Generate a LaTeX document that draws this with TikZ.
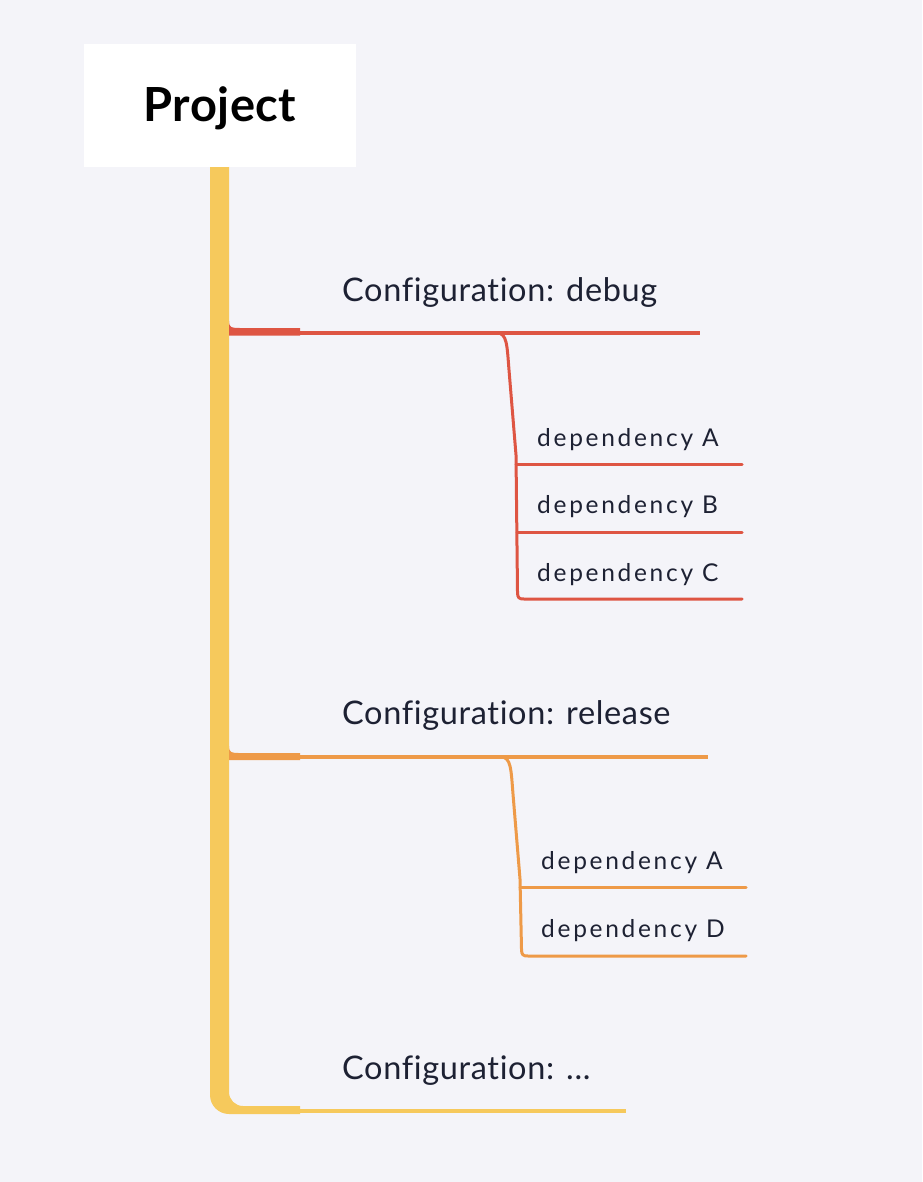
\documentclass[tikz,border=0pt]{standalone}
\usepackage{fontspec}
\setmainfont{Lato}[Ligatures=NoCommon]
\usetikzlibrary{calc}
\definecolor{bg}{HTML}{F4F4F9}
\definecolor{txt}{HTML}{1D2133}
\definecolor{cyel}{HTML}{F6C95C}
\definecolor{cred}{HTML}{DE5543}
\definecolor{cora}{HTML}{EE9A48}
\tikzset{
  conf/.style={anchor=base west, inner sep=0pt, text=txt, font=\fontsize{32.5}{36}\selectfont\addfontfeature{LetterSpace=2}},
  dep/.style={anchor=base west, inner sep=0pt, text=txt, font=\fontsize{24.5}{28}\selectfont\addfontfeature{LetterSpace=11}},
  thinline/.style={line width=3.5pt},
  subline/.style={line width=3pt, line cap=round, line join=round},
}
\begin{document}
\begin{tikzpicture}[x=1pt,y=-1pt]
\fill[bg] (0,0) rectangle (922,1182);
\useasboundingbox (0,0) rectangle (922,1182);
% root
\node[fill=white, minimum width=272pt, minimum height=123pt, inner sep=0pt,
      text height=40pt, text depth=7pt,
      text=black, font=\bfseries\fontsize{47}{50}\selectfont\addfontfeature{LetterSpace=1}] (root) at (220,105.5) {Project};
% trunk
\fill[cyel] (root.south -| 210,0) -- (210,1095) arc[start angle=180,end angle=90,radius=19]
  -- (300,1114) -- (300,1106) -- (243,1106) arc[start angle=90,end angle=180,radius=14]
  -- (229,167) -- cycle;
\coordinate (c3a) at (300,1111);
\coordinate (c3b) at (626,1111);
\draw[cyel, thinline] (c3a) -- (c3b);
% configuration nodes
\node[conf] (c1) at (342,301) {Configuration: debug};
\node[conf] (c2) at (342,724) {Configuration: release};
\node[conf] (c3) at (342,1079) {Configuration: ...};
% red branch
\fill[cred] (229,321) .. controls (229,328) and (232,328) .. (240,328) -- (300,328) -- (300,335.5) -- (229,335.5) -- cycle;
\coordinate (c1a) at (300,333);
\coordinate (c1b) at (700,333);
\draw[cred, thinline] (c1a) -- (c1b);
\coordinate (r0) at (497,333);
\node[dep] (d1) at (537,446) {dependency A};
\node[dep] (d2) at (537,513) {dependency B};
\node[dep] (d3) at (537,581) {dependency C};
\coordinate (rA) at (742,464);
\coordinate (rB) at (742,532);
\coordinate (rC) at (742,599);
\draw[cred, subline] (r0) .. controls (507,333) and (507,345) .. (509,370) -- (516,455)
  -- (517.5,592) .. controls (517.5,598) and (519,599) .. (524,599) -- (rC);
\draw[cred, subline] (516,464) -- (rA);
\draw[cred, subline] (517,532) -- (rB);
% orange branch
\fill[cora] (229,746) .. controls (229,753) and (232,753) .. (240,753) -- (300,753) -- (300,760) -- (229,760) -- cycle;
\coordinate (c2a) at (300,757);
\coordinate (c2b) at (708,757);
\draw[cora, thinline] (c2a) -- (c2b);
\coordinate (o0) at (501,757);
\node[dep] (e1) at (541,869) {dependency A};
\node[dep] (e2) at (541,937) {dependency D};
\coordinate (oA) at (746,887);
\coordinate (oD) at (746,956);
\draw[cora, subline] (o0) .. controls (511,757) and (511,769) .. (513,794) -- (520,879)
  -- (521.5,949) .. controls (521.5,955) and (523,956) .. (528,956) -- (oD);
\draw[cora, subline] (520,887) -- (oA);
\end{tikzpicture}
\end{document}
